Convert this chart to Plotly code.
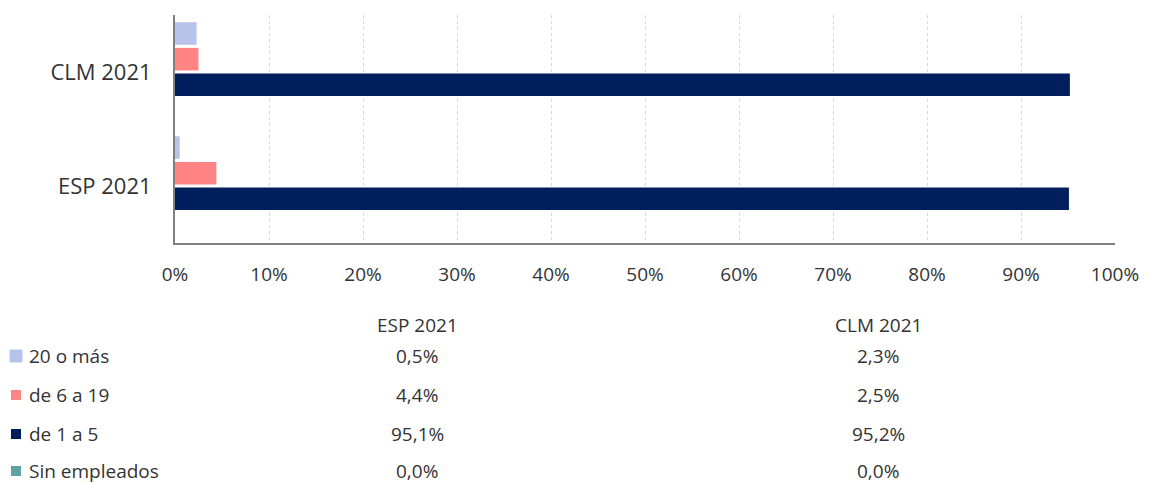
import plotly.graph_objects as go

# data
categories = ['ESP 2021', 'CLM 2021']
series_names = ['Sin empleados', 'de 1 a 5', 'de 6 a 19', '20 o más']
sin_empleados = [0.0, 0.0]
de_1_a_5 = [95.1, 95.2]
de_6_a_19 = [4.4, 2.5]
veinte_o_mas = [0.5, 2.3]
colors = ['#5fa3a3', '#001f5c', '#ff8585', '#b7c3eb']

series_values = [sin_empleados, de_1_a_5, de_6_a_19, veinte_o_mas]

W, H = 1151, 484
L, R, T, B = 175, 36, 15, 241
font = 'Open Sans, Noto Sans, sans-serif'
txt = '#333333'


def px_x(x):
    # page pixel -> paper
    return (x - L) / (W - L - R)


def px_y(y):
    return (H - B - y) / (H - T - B)


fig = go.Figure()
for name, vals, col in zip(series_names, series_values, colors):
    fig.add_trace(go.Bar(y=categories, x=[v / 100 for v in vals], name=name,
                         orientation='h', marker=dict(color=col, line=dict(width=0))))

fig.update_layout(
    width=W, height=H,
    margin=dict(l=L, r=R, t=T, b=B),
    paper_bgcolor='white', plot_bgcolor='white',
    barmode='group', bargap=0.1, bargroupgap=0.12,
    showlegend=False,
    font=dict(family=font, color=txt, size=19),
)
fig.update_xaxes(range=[0, 1], dtick=0.1, tickformat='.0%',
                 showgrid=True, gridcolor='#d6d6d6', griddash='dot', gridwidth=1,
                 showline=True, linecolor='#808080', linewidth=2,
                 ticks='', ticklabelstandoff=13, zeroline=False,
                 tickfont=dict(size=19))
fig.update_yaxes(showline=True, linecolor='#808080', linewidth=2,
                 ticks='', ticklabelstandoff=17, tickfont=dict(size=22))

# data table below the chart
col_x = {'ESP 2021': 417, 'CLM 2021': 878}
for cat in categories:
    fig.add_annotation(text=cat, x=px_x(col_x[cat]), y=px_y(325), xref='paper', yref='paper',
                       showarrow=False, xanchor='center', yanchor='middle')

row_y = {'20 o más': 356, 'de 6 a 19': 395, 'de 1 a 5': 434, 'Sin empleados': 471}
key_size = {'20 o más': 13, 'de 6 a 19': 10, 'de 1 a 5': 10, 'Sin empleados': 10}
for name, vals, col in zip(series_names, series_values, colors):
    yy = row_y[name]
    s = key_size[name] / 2
    fig.add_shape(type='rect', xref='paper', yref='paper',
                  x0=px_x(16 - s), x1=px_x(16 + s), y0=px_y(yy - s), y1=px_y(yy + s),
                  fillcolor=col, line=dict(width=0))
    fig.add_annotation(text=name, x=px_x(27), y=px_y(yy), xref='paper', yref='paper',
                       showarrow=False, xanchor='left', yanchor='middle')
    for cat, v in zip(categories, vals):
        label = f'{v:.1f}%'.replace('.', ',')
        fig.add_annotation(text=label, x=px_x(col_x[cat]), y=px_y(yy), xref='paper', yref='paper',
                           showarrow=False, xanchor='center', yanchor='middle')

# drop the default 8px page margin so the figure fills the window
fig.write_html('out.html', config={'displayModeBar': False},
               post_script="document.body.style.margin='0';document.body.style.overflow='hidden';")
